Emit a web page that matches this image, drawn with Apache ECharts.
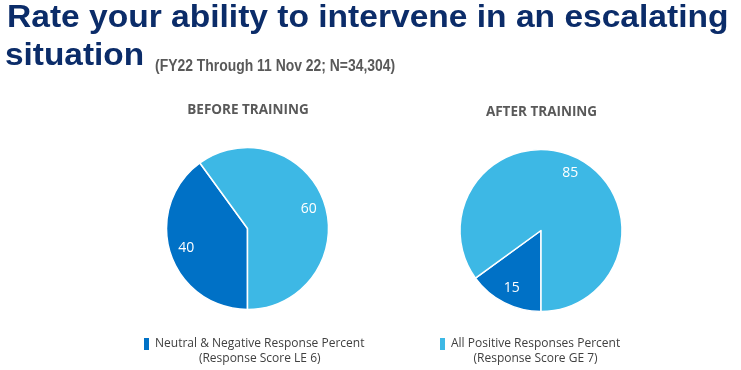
<!DOCTYPE html>
<html>
<head>
<meta charset="utf-8">
<script src="https://cdn.jsdelivr.net/npm/echarts@6/dist/echarts.min.js"></script>
<style>
html,body{margin:0;padding:0;background:#fff;}
#chart{width:741px;height:370px;}
</style>
</head>
<body>
<div id="chart"></div>
<script>
// ---- data ----
var categories = ['Neutral & Negative Response Percent', 'All Positive Responses Percent'];
var categoryNotes = ['(Response Score LE 6)', '(Response Score GE 7)'];
var panelTitles = ['BEFORE TRAINING', 'AFTER TRAINING'];
var beforeValues = [40, 60];
var afterValues = [15, 85];
var titleLine1 = 'Rate your ability to intervene in an escalating';
var titleLine2 = 'situation';
var subtitleText = '(FY22 Through 11 Nov 22; N=34,304)';

var colors = ['#0071c6', '#3db8e5'];
var uiFont = '"Open Sans", "Noto Sans", sans-serif';

function toData(vals) {
  return vals.map(function (v, i) { return { name: categories[i], value: v }; });
}

var centers = [[247.5, 228.5], [541, 230.5]];
var R = 81;

function solidPie(vals, c) {
  return {
    type: 'pie',
    center: c,
    radius: [0, R],
    startAngle: 270,
    clockwise: true,
    silent: true,
    animation: false,
    label: { show: false },
    labelLine: { show: false },
    itemStyle: { borderColor: '#ffffff', borderWidth: 1.5 },
    data: toData(vals)
  };
}
function labelPie(vals, c) {
  return {
    type: 'pie',
    center: c,
    radius: [42, R],
    startAngle: 270,
    clockwise: true,
    silent: true,
    animation: false,
    itemStyle: { color: 'rgba(0,0,0,0)', borderWidth: 0 },
    label: {
      show: true, position: 'inside', formatter: '{c}',
      color: '#ffffff', fontSize: 14, fontFamily: uiFont
    },
    labelLine: { show: false },
    data: toData(vals).map(function (d) { d.name = d.name + ' '; return d; })
  };
}

function legendFor(i, left) {
  return {
    left: left, top: 336,
    padding: 0,
    orient: 'horizontal',
    data: [categories[i]],
    itemWidth: 7, itemHeight: 14,
    icon: 'rect',
    selectedMode: false,
    formatter: function (name) {
      return '{a|' + name + '}\n{b|' + categoryNotes[i] + '}';
    },
    textStyle: {
      color: '#404040', fontSize: 12, fontFamily: uiFont,
      padding: [15, 0, 0, 0],
      rich: {
        a: { fontSize: 12, fontFamily: uiFont, color: '#404040', lineHeight: 15 },
        b: { fontSize: 12, fontFamily: uiFont, color: '#404040', lineHeight: 15, align: 'center' }
      }
    }
  };
}

var chart = echarts.init(document.getElementById('chart'), null, { renderer: 'canvas' });
chart.setOption({
  animation: false,
  color: colors,
  legend: [legendFor(0, 142), legendFor(1, 438)],
  graphic: [
    { type: 'text', x: 7, y: 18.5, scaleX: 1.065, silent: true,
      style: { text: titleLine1, fontFamily: '"Liberation Sans", Arial, sans-serif', fontWeight: 'bold', fontSize: 31.5, fill: '#0b2c69', align: 'left', verticalAlign: 'middle' } },
    { type: 'text', x: 5, y: 56, scaleX: 1.06, silent: true,
      style: { text: titleLine2, fontFamily: '"Liberation Sans", Arial, sans-serif', fontWeight: 'bold', fontSize: 31.5, fill: '#0b2c69', align: 'left', verticalAlign: 'middle' } },
    { type: 'text', x: 155, y: 66.5, scaleX: 0.87, silent: true,
      style: { text: subtitleText, fontFamily: '"Liberation Sans", Arial, sans-serif', fontWeight: 'bold', fontSize: 16, fill: '#595959', align: 'left', verticalAlign: 'middle' } },
    { type: 'text', x: 248, y: 110, silent: true,
      style: { text: panelTitles[0], fontFamily: uiFont, fontWeight: 'bold', fontSize: 13.5, fill: '#595959', align: 'center', verticalAlign: 'middle' } },
    { type: 'text', x: 541.5, y: 112, silent: true,
      style: { text: panelTitles[1], fontFamily: uiFont, fontWeight: 'bold', fontSize: 13.5, fill: '#595959', align: 'center', verticalAlign: 'middle' } }
  ],
  series: [
    solidPie(beforeValues, centers[0]),
    solidPie(afterValues, centers[1]),
    labelPie(beforeValues, centers[0]),
    labelPie(afterValues, centers[1])
  ]
});
</script>
</body>
</html>
